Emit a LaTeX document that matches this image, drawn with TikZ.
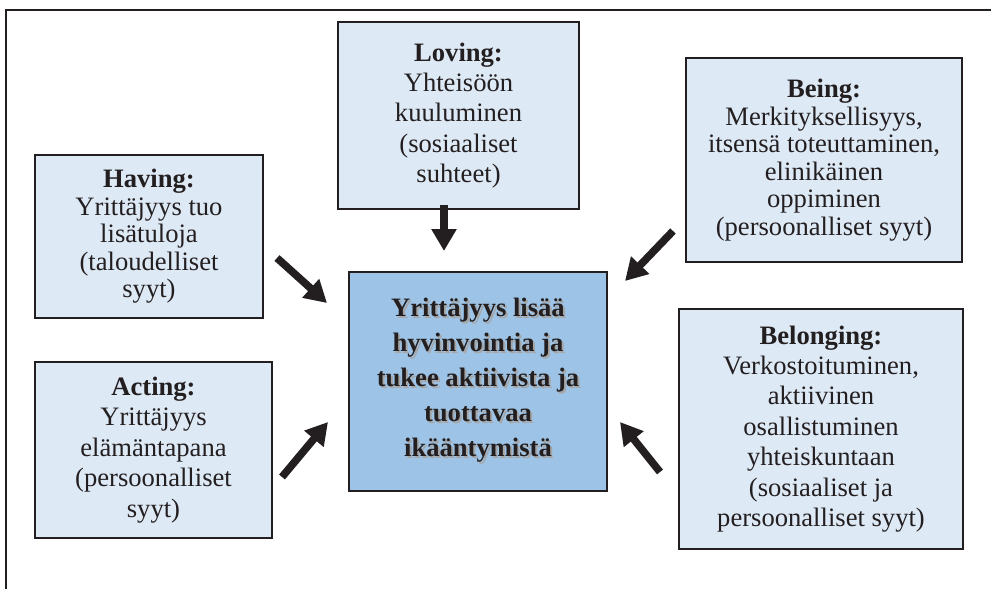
\documentclass[tikz,border=0pt]{standalone}
\usepackage{fontspec}
\setmainfont{Liberation Serif}
\usetikzlibrary{arrows.meta}
\definecolor{boxblue}{RGB}{222,233,246}
\definecolor{midblue}{RGB}{157,195,230}
\definecolor{ink}{RGB}{35,31,32}
\newcommand\shad[1]{\leavevmode\rlap{\kern1pt\raisebox{-1pt}{\color{gray!70}#1}}#1}

\begin{document}
\begin{tikzpicture}[x=0.5pt,y=-0.5pt,
      side node/.style={rectangle,draw=ink,line width=1pt,fill=boxblue,text=ink,align=center,inner sep=0pt,
        font=\fontsize{13.3}{13.75}\selectfont},
      loose node/.style={side node,font=\fontsize{13.3}{15.2}\selectfont},
      main node/.style={side node,fill=midblue,font=\fontsize{13.3}{17.5}\selectfont\bfseries},
      big arrow/.style={draw=ink,line width=3.8pt,-{Triangle[length=11pt,width=12pt]}}]

      \useasboundingbox (0,0) rectangle (991,589);
      \draw[ink,line width=1.4pt] (991,10) -- (6,10) -- (6,589);

      \node[main node,minimum width=129pt,minimum height=109.5pt] (3) at (478,381.5)
        {\shad{Yrittäjyys lisää}\\ \shad{hyvinvointia ja}\\ \shad{tukee aktiivista ja}\\ \shad{tuottavaa}\\ \shad{ikääntymistä}};
      \node[side node,minimum width=114pt,minimum height=81.5pt] (1) at (149,236.5)
        {\textbf{Having:}\\ Yrittäjyys tuo\\ lisätuloja\\ (taloudelliset\\ syyt)};
      \node[loose node,minimum width=120.5pt,minimum height=93.5pt] (2) at (458.5,115.5)
        {\textbf{Loving:}\\ Yhteisöön\\ kuuluminen\\ (sosiaaliset\\ suhteet)};
      \node[side node,minimum width=138pt,minimum height=102pt] (4) at (824,160)
        {\textbf{Being:}\\ Merkityksellisyys,\\ itsensä toteuttaminen,\\ elinikäinen\\ oppiminen\\ (persoonalliset syyt)};
      \node[loose node,minimum width=118.5pt,minimum height=88pt] (5) at (153.5,450)
        {\textbf{Acting:}\\ Yrittäjyys\\ elämäntapana\\ (persoonalliset\\ syyt)};
      \node[loose node,minimum width=142pt,minimum height=120pt] (6) at (821,429)
        {\textbf{Belonging:}\\ Verkostoituminen,\\ aktiivinen\\ osallistuminen\\ yhteiskuntaan\\ (sosiaaliset ja\\ persoonalliset syyt)};

      \path[every edge/.style={big arrow}]
        ([shift={(13,21.5)}]1.east) edge ([shift={(-21,-78.5)}]3.west)
        ([shift={(-14.5,-5)}]2.south) edge ([shift={(-34,-20)}]3.north)
        ([shift={(-12,-32)}]4.south west) edge ([shift={(17,10)}]3.north east)
        ([shift={(9,27)}]5.east) edge ([shift={(-20,40.5)}]3.west)
        ([shift={(-18,43)}]6.west) edge ([shift={(12,40.5)}]3.east);
    \end{tikzpicture}
\end{document}
